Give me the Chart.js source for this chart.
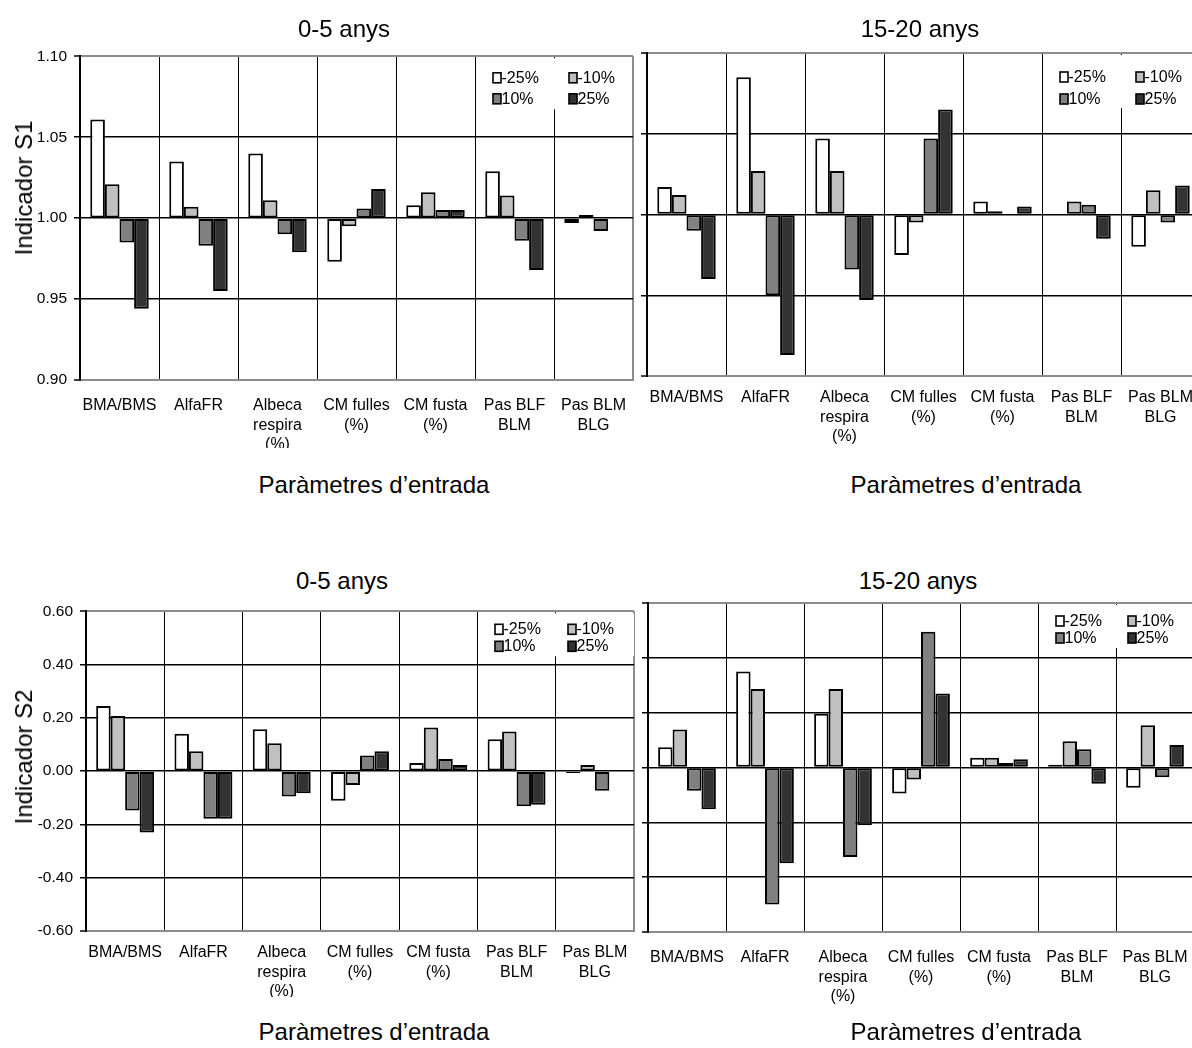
<!DOCTYPE html>
<html>
<head>
<meta charset="utf-8">
<script src="https://cdn.jsdelivr.net/npm/chart.js@4.4.1/dist/chart.umd.min.js"></script>
<style>
  html, body { margin: 0; padding: 0; background: #fff; }
  body { position: relative; width: 1192px; height: 1048px; overflow: hidden;
         font-family: "Liberation Sans", Arial, sans-serif; color: #000; }
  canvas { position: absolute; }
  .ttl { position: absolute; font-size: 24px; line-height: 24px; white-space: nowrap;
         transform: translateX(-50%); }
  .yttl { position: absolute; font-size: 24px; line-height: 24px; white-space: nowrap;
          transform: translate(-50%, -50%) rotate(-90deg); }
</style>
</head>
<body>
<canvas id="s1Young" width="640" height="408" style="left:0;top:40px"></canvas>
<canvas id="s1Old" width="610" height="430" style="left:600px;top:40px"></canvas>
<canvas id="s2Young" width="640" height="402" style="left:0;top:595px"></canvas>
<canvas id="s2Old" width="610" height="425" style="left:600px;top:595px"></canvas>

<div class="ttl" style="left:344px;top:17px">0-5 anys</div>
<div class="ttl" style="left:920px;top:17px">15-20 anys</div>
<div class="ttl" style="left:342px;top:569px">0-5 anys</div>
<div class="ttl" style="left:918px;top:569px">15-20 anys</div>

<div class="ttl" style="left:374px;top:473px">Paràmetres d’entrada</div>
<div class="ttl" style="left:966px;top:473px">Paràmetres d’entrada</div>
<div class="ttl" style="left:374px;top:1020px">Paràmetres d’entrada</div>
<div class="ttl" style="left:966px;top:1020px">Paràmetres d’entrada</div>

<div class="yttl" style="left:24px;top:188px">Indicador S1</div>
<div class="yttl" style="left:24px;top:757px">Indicador S2</div>

<script>
// Input parameters (categories) and perturbation levels (series)
const categories = ['BMA/BMS', 'AlfaFR', ['Albeca', 'respira', '(%)'], ['CM fulles', '(%)'],
                    ['CM fusta', '(%)'], ['Pas BLF', 'BLM'], ['Pas BLM', 'BLG']];
const seriesLabels = ['-25%', '-10%', '10%', '25%'];
const seriesFills = ['#ffffff', '#c0c0c0', '#808080', '#333333'];

// Value-axis ticks
const s1Ticks = [0.90, 0.95, 1.00, 1.05, 1.10];
const s2Ticks = [-0.60, -0.40, -0.20, 0.00, 0.20, 0.40, 0.60];

// Indicador S1, 0-5 anys
const s1YoungMinus25 = [1.061, 1.035, 1.040, 0.973, 1.008, 1.029, 0.997];
const s1YoungMinus10 = [1.021, 1.007, 1.011, 0.995, 1.016, 1.014, 1.002];
const s1YoungPlus10  = [0.985, 0.983, 0.990, 1.006, 1.005, 0.986, 0.992];
const s1YoungPlus25  = [0.944, 0.955, 0.979, 1.018, 1.005, 0.968, 1.0005];

// Indicador S1, 15-20 anys
const s1OldMinus25 = [1.017, 1.085, 1.047, 0.975, 1.008, 1.0005, 0.980];
const s1OldMinus10 = [1.012, 1.027, 1.027, 0.995, 1.002, 1.008, 1.015];
const s1OldPlus10  = [0.990, 0.950, 0.966, 1.047, 1.0005, 1.006, 0.995];
const s1OldPlus25  = [0.960, 0.913, 0.947, 1.065, 1.005, 0.985, 1.018];

// Indicador S2, 0-5 anys
const s2YoungMinus25 = [0.245, 0.140, 0.157, -0.111, 0.031, 0.120, -0.007];
const s2YoungMinus10 = [0.207, 0.075, 0.105, -0.052, 0.164, 0.149, 0.023];
const s2YoungPlus10  = [-0.148, -0.179, -0.095, 0.059, 0.046, -0.132, -0.074];
const s2YoungPlus25  = [-0.230, -0.179, -0.083, 0.075, 0.023, -0.126, 0.003];

// Indicador S2, 15-20 anys
const s2OldMinus25 = [0.074, 0.350, 0.196, -0.095, 0.036, 0.010, -0.074];
const s2OldMinus10 = [0.139, 0.286, 0.286, -0.044, 0.036, 0.096, 0.154];
const s2OldPlus10  = [-0.085, -0.500, -0.326, 0.495, 0.016, 0.067, -0.036];
const s2OldPlus25  = [-0.152, -0.349, -0.211, 0.270, 0.030, -0.059, 0.082];

const BLACK = '#000000';
const GRAY = '#8c8c8c';
const FONT = '"Liberation Sans", Arial, sans-serif';
Chart.defaults.font.family = FONT;
Chart.defaults.color = BLACK;

// Two-column legend drawn inside the plot area, on a white box
const insideLegend = {
  id: 'insideLegend',
  afterDraw(chart, args, o) {
    const { ctx, chartArea } = chart;
    const left = chartArea.left, top = chartArea.top;
    ctx.save();
    ctx.fillStyle = '#ffffff';
    ctx.fillRect(left + o.boxX, top + o.boxY, o.boxW, o.boxH);
    ctx.font = '16px ' + FONT;
    ctx.textBaseline = 'middle';
    ctx.textAlign = 'left';
    chart.data.datasets.forEach((ds, i) => {
      const col = i % 2, row = Math.floor(i / 2);
      const mx = left + (col === 0 ? o.col1 : o.col2);
      const my = top + o.row1 + row * o.rowGap;
      ctx.fillStyle = ds.backgroundColor;
      ctx.fillRect(mx, my - 5, 8, 10);
      ctx.strokeStyle = BLACK;
      ctx.lineWidth = 1.6;
      ctx.strokeRect(mx, my - 5, 8, 10);
      ctx.fillStyle = BLACK;
      ctx.fillText(ds.label, mx + 8.5, my + 0.5);
    });
    ctx.restore();
  }
};

function buildPanel(id, p) {
  const datasets = p.series.map((vals, i) => ({
    label: seriesLabels[i],
    data: vals,
    base: p.base,
    backgroundColor: seriesFills[i],
    borderColor: BLACK,
    borderWidth: 2,
    borderSkipped: false,
    barPercentage: 1.0,
    categoryPercentage: 0.74
  }));
  const nTicks = p.ticks.length;
  return new Chart(document.getElementById(id), {
    type: 'bar',
    data: { labels: categories, datasets },
    plugins: [insideLegend],
    options: {
      responsive: false,
      animation: false,
      devicePixelRatio: 1,
      layout: { padding: { left: 0, top: p.padTop, right: p.padRight, bottom: 0 } },
      plugins: {
        legend: { display: false },
        tooltip: { enabled: false },
        title: { display: false },
        insideLegend: p.legend
      },
      scales: {
        x: {
          type: 'category',
          offset: true,
          grid: {
            offset: true,
            drawTicks: true,
            tickLength: p.labelGap,
            tickColor: 'rgba(0,0,0,0)',
            color: c => c.type === 'tick' ? BLACK : GRAY,
            lineWidth: c => c.type === 'tick' ? 1 : 2
          },
          border: { display: true, color: GRAY, width: 2 },
          ticks: {
            padding: 0,
            autoSkip: false,
            maxRotation: 0,
            minRotation: 0,
            font: { size: 16, lineHeight: '19.5px' },
            color: BLACK
          },
          afterFit: s => { s.height = p.xAxisH; }
        },
        y: {
          type: 'linear',
          min: p.ticks[0],
          max: p.ticks[nTicks - 1],
          afterBuildTicks: s => { s.ticks = p.ticks.map(v => ({ value: v })); },
          grid: {
            drawTicks: true,
            tickLength: 6,
            tickColor: BLACK,
            tickWidth: 1.5,
            color: c => (c.type === 'tick' && (c.index === 0 || c.index === nTicks - 1)) ? GRAY : BLACK,
            lineWidth: c => (c.type === 'tick' && (c.index === 0 || c.index === nTicks - 1)) ? 2 : 1.5
          },
          border: { display: true, color: BLACK, width: 2 },
          ticks: {
            display: p.showTickLabels,
            padding: 7,
            font: { size: 15.5 },
            color: BLACK,
            callback: v => Number(v).toFixed(2)
          },
          afterFit: s => { s.width = p.yAxisW; }
        }
      }
    }
  });
}

buildPanel('s1Young', {
  series: [s1YoungMinus25, s1YoungMinus10, s1YoungPlus10, s1YoungPlus25],
  base: 1, ticks: s1Ticks, showTickLabels: true,
  padTop: 10, padRight: 7, yAxisW: 80, xAxisH: 68, labelGap: 16,
  legend: { boxX: 400, boxY: 2, boxW: 150, boxH: 51, col1: 413, col2: 489, row1: 21.5, rowGap: 21 }
});
buildPanel('s1Old', {
  series: [s1OldMinus25, s1OldMinus10, s1OldPlus10, s1OldPlus25],
  base: 1, ticks: s1Ticks, showTickLabels: false,
  padTop: 13, padRight: 10, yAxisW: 47, xAxisH: 94, labelGap: 12,
  legend: { boxX: 400, boxY: 2, boxW: 150, boxH: 53, col1: 413, col2: 489, row1: 24, rowGap: 22 }
});
buildPanel('s2Young', {
  series: [s2YoungMinus25, s2YoungMinus10, s2YoungPlus10, s2YoungPlus25],
  base: 0, ticks: s2Ticks, showTickLabels: true,
  padTop: 10, padRight: 6, yAxisW: 86, xAxisH: 66, labelGap: 12,
  legend: { boxX: 398, boxY: 2, boxW: 150, boxH: 43, col1: 409, col2: 482, row1: 18, rowGap: 17 }
});
buildPanel('s2Old', {
  series: [s2OldMinus25, s2OldMinus10, s2OldPlus10, s2OldPlus25],
  base: 0, ticks: s2Ticks, showTickLabels: false,
  padTop: 8, padRight: 16, yAxisW: 48, xAxisH: 88, labelGap: 16,
  legend: { boxX: 398, boxY: 2, boxW: 148, boxH: 43, col1: 408, col2: 480, row1: 18, rowGap: 17 }
});
</script>
</body>
</html>
